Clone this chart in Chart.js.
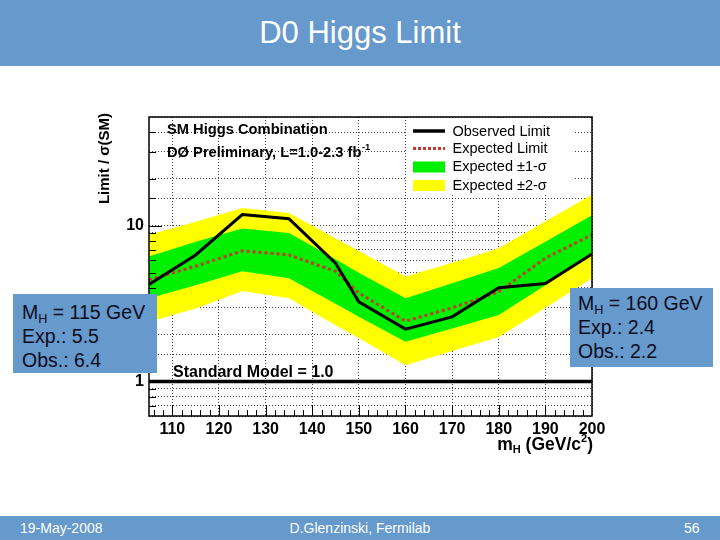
<!DOCTYPE html>
<html>
<head>
<meta charset="utf-8">
<script src="https://cdn.jsdelivr.net/npm/chart.js@4/dist/chart.umd.min.js"></script>
<style>
  html, body { margin:0; padding:0; background:#fff; }
  body { width:720px; height:540px; position:relative; overflow:hidden; font-family: Arial, "Liberation Sans", sans-serif; }
  #c { position:absolute; left:0; top:0; }
  .bar { position:absolute; left:0; width:720px; background:#6699CC; color:#fff; }
  #title { top:0; height:66px; }
  #title div { position:absolute; left:0; width:720px; top:15px; text-align:center; font-size:31px; line-height:36px; }
  #footer { top:516px; height:24px; font-family:"Liberation Sans Narrow", "Arial Narrow", Arial, sans-serif; font-size:14px; line-height:24px; }
  #footer span { position:absolute; top:0; }
  .box { position:absolute; background:#6699CC; color:#0c0c1c; font-size:19.5px; line-height:24px; }
  .box div { white-space:nowrap; height:24px; }
  .sub { font-size:0.65em; position:relative; top:0.3em; line-height:0; }
</style>
</head>
<body>
<canvas id="c" width="720" height="540"></canvas>
<div class="bar" id="title"><div>D0 Higgs Limit</div></div>
<div class="box" style="left:13px; top:294px; width:144px; height:79px;">
  <div style="padding:6px 0 0 9px; height:auto;">
    <div>M<span class="sub">H</span> = 115 GeV</div>
    <div>Exp.: 5.5</div>
    <div>Obs.: 6.4</div>
  </div>
</div>
<div class="box" style="left:570px; top:288px; width:143px; height:79px;">
  <div style="padding:3px 0 0 8px; height:auto;">
    <div>M<span class="sub">H</span> = 160 GeV</div>
    <div>Exp.: 2.4</div>
    <div>Obs.: 2.2</div>
  </div>
</div>
<div class="bar" id="footer">
  <span style="left:20px;">19-May-2008</span>
  <span style="left:0; width:720px; text-align:center;">D.Glenzinski, Fermilab</span>
  <span style="left:684px;">56</span>
</div>
<script>
// ---- data ----
const masses    = [105, 115, 125, 135, 145, 150, 160, 170, 180, 190, 200];
const observed  = [4.2, 6.5, 11.8, 11.1, 5.75, 3.25, 2.17, 2.6, 4.0, 4.26, 6.6];
const expected  = [4.5, 5.5, 6.9, 6.5, 5.1, 3.7, 2.44, 2.97, 3.77, 6.2, 8.75];
const band1Up   = [6.35, 7.9, 9.6, 9.0, 6.1, 5.0, 3.42, 4.28, 5.35, 7.9, 11.7];
const band1Down = [3.42, 4.15, 5.1, 4.6, 3.16, 2.6, 1.8, 2.19, 2.67, 4.15, 6.47];
const band2Up   = [8.75, 10.6, 13.0, 12.1, 8.3, 6.9, 4.72, 5.8, 7.18, 10.7, 15.85];
const band2Down = [2.42, 2.94, 3.81, 3.42, 2.3, 1.9, 1.27, 1.57, 1.93, 2.98, 4.6];
const smMasses  = [105, 200];
const smLimit   = [1, 1];
const xTicks    = [110, 120, 130, 140, 150, 160, 170, 180, 190, 200];
const yLabelled = [1, 10];

const pts = (xs, ys) => xs.map((x, i) => ({x: x, y: ys[i]}));
const FONT = 'Arial, "Liberation Sans", sans-serif';

const legendBg = {
  id: 'legendBg',
  afterDatasetsDraw(chart) {
    // white legend pad (covers grid lines, as in the reference)
    const ctx = chart.ctx;
    ctx.save();
    ctx.fillStyle = '#fff';
    ctx.fillRect(406, 119, 169, 76);
    ctx.restore();
  }
};

const overlay = {
  id: 'overlay',
  afterDraw(chart) {
    const ctx = chart.ctx, a = chart.chartArea;
    const xs = chart.scales.x, ys = chart.scales.y;
    ctx.save();
    ctx.fillStyle = '#fff';
    ctx.fillRect(406, 119, 169, 76);
    // inward ticks
    ctx.strokeStyle = '#000'; ctx.lineWidth = 1; ctx.setLineDash([]);
    ctx.beginPath();
    for (let m = 106; m < 200; m += 2) {
      const px = Math.round(xs.getPixelForValue(m)) + 0.5;
      const len = (m % 10 === 0) ? 11 : 6;
      ctx.moveTo(px, a.bottom); ctx.lineTo(px, a.bottom - len);
    }
    ys.ticks.forEach(t => {
      const v = t.value;
      if (v <= ys.min || v >= ys.max) return;
      const py = Math.round(ys.getPixelForValue(v)) + 0.5;
      const len = yLabelled.includes(v) ? 13 : 7;
      ctx.moveTo(a.left, py); ctx.lineTo(a.left + len, py);
    });
    ctx.stroke();
    // frame
    ctx.lineWidth = 1.5;
    ctx.strokeRect(a.left, a.top, a.right - a.left, a.bottom - a.top);

    ctx.fillStyle = '#000';
    ctx.textBaseline = 'middle';
    ctx.textAlign = 'left';
    // header texts
    ctx.font = 'bold 14.7px ' + FONT;
    ctx.fillText('SM Higgs Combination', 167, 130);
    const t2 = 'DØ Preliminary, L=1.0-2.3 fb';
    ctx.fillText(t2, 167, 153);
    const w2 = ctx.measureText(t2).width;
    ctx.font = 'bold 9.5px ' + FONT;
    ctx.fillText('-1', 167 + w2 + 0.5, 147);
    // SM label
    ctx.font = 'bold 16px ' + FONT;
    ctx.fillText('Standard Model = 1.0', 173, 373);

    // legend
    const lx0 = 413, lx1 = 445, tx = 452.5;
    ctx.font = '14.5px ' + FONT;
    ctx.strokeStyle = '#000'; ctx.lineWidth = 3.5;
    ctx.beginPath(); ctx.moveTo(lx0, 131); ctx.lineTo(lx1, 131); ctx.stroke();
    ctx.fillText('Observed Limit', tx, 132);
    ctx.strokeStyle = '#C23B2E'; ctx.lineWidth = 3; ctx.setLineDash([3, 2]);
    ctx.beginPath(); ctx.moveTo(lx0, 148.5); ctx.lineTo(lx1, 148.5); ctx.stroke();
    ctx.setLineDash([]);
    ctx.fillText('Expected Limit', tx, 148.5);
    ctx.fillStyle = '#00F000'; ctx.fillRect(lx0, 161.5, lx1 - lx0, 11);
    ctx.fillStyle = '#FFFF00'; ctx.fillRect(lx0, 180, lx1 - lx0, 11);
    ctx.fillStyle = '#000';
    ctx.fillText('Expected \u00B11-\u03C3', tx, 167);
    ctx.fillText('Expected \u00B12-\u03C3', tx, 185.5);

    // y title
    ctx.save();
    ctx.translate(105, 113);
    ctx.rotate(-Math.PI / 2);
    ctx.textAlign = 'right';
    ctx.font = 'bold 15px ' + FONT;
    ctx.fillText('Limit / \u03C3(SM)', 0, 0);
    ctx.restore();

    // x title: m_H (GeV/c^2)
    const big = 'bold 17.5px ' + FONT;
    const small = 'bold 11px ' + FONT;
    const parts = [['m', big, 0], ['H', small, 5], [' (GeV/c', big, 0], ['2', small, -6], [')', big, 0]];
    let total = 0;
    parts.forEach(p => { ctx.font = p[1]; total += ctx.measureText(p[0]).width; });
    let x = 593 - total;
    ctx.textAlign = 'left';
    parts.forEach(p => { ctx.font = p[1]; ctx.fillText(p[0], x, 445 + p[2]); x += ctx.measureText(p[0]).width; });
    ctx.restore();
  }
};

new Chart(document.getElementById('c'), {
  type: 'line',
  data: {
    datasets: [
      {data: pts(masses, band2Up), borderWidth: 0, pointRadius: 0, backgroundColor: '#FFFF00', fill: '+1', order: 5},
      {data: pts(masses, band2Down), borderWidth: 0, pointRadius: 0, fill: false, order: 5},
      {data: pts(masses, band1Up), borderWidth: 0, pointRadius: 0, backgroundColor: '#00F000', fill: '+1', order: 4},
      {data: pts(masses, band1Down), borderWidth: 0, pointRadius: 0, fill: false, order: 4},
      {data: pts(masses, expected), borderColor: '#C23B2E', borderWidth: 3, borderDash: [3, 3], pointRadius: 0, fill: false, order: 2},
      {data: pts(masses, observed), borderColor: '#000', borderWidth: 3, pointRadius: 0, fill: false, order: 1},
      {data: pts(smMasses, smLimit), borderColor: '#000', borderWidth: 3.5, pointRadius: 0, fill: false, order: 1}
    ]
  },
  options: {
    responsive: false,
    animation: false,
    events: [],
    layout: {padding: {left: 90, right: 128, top: 117, bottom: 84}},
    plugins: {legend: {display: false}, tooltip: {enabled: false}, title: {display: false}},
    elements: {line: {tension: 0}},
    scales: {
      x: {
        type: 'linear', min: 105, max: 200, z: 1,
        afterFit: s => { s.height = 40; },
        afterBuildTicks: s => { s.ticks = xTicks.map(v => ({value: v})); },
        ticks: {
          autoSkip: false, maxRotation: 0, padding: 4, color: '#000',
          font: {family: FONT, size: 16, weight: 'bold'},
          callback: v => String(v)
        },
        grid: {color: 'rgba(0,0,0,0.75)', lineWidth: 1, drawTicks: false},
        border: {display: false, dash: [1, 2]}
      },
      y: {
        type: 'logarithmic', min: 0.6, max: 50, z: 1,
        afterFit: s => { s.width = 59; },
        ticks: {
          autoSkip: false, padding: 5, color: '#000',
          font: {family: FONT, size: 16, weight: 'bold'},
          callback: v => yLabelled.includes(v) ? String(v) : ''
        },
        grid: {color: 'rgba(0,0,0,0.75)', lineWidth: 1, drawTicks: false},
        border: {display: false, dash: [1, 2]}
      }
    }
  },
  plugins: [legendBg, overlay]
});
</script>
</body>
</html>
